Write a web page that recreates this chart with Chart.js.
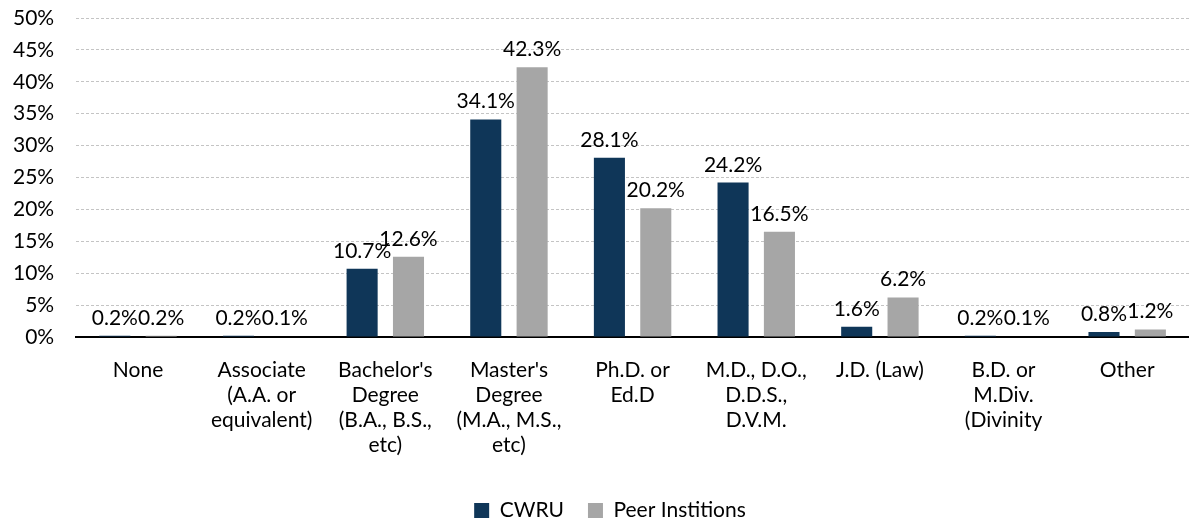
<!DOCTYPE html>
<html>
<head>
<meta charset="utf-8">
<script src="https://cdn.jsdelivr.net/npm/chart.js@4.4.1/dist/chart.umd.min.js"></script>
<style>
  html, body { margin: 0; padding: 0; background: #fff; }
  #wrap { width: 1189px; height: 518px; }
</style>
</head>
<body>
<div id="wrap"><canvas id="chart" width="1189" height="518"></canvas></div>
<script>
const categories = [
    ['None'],
    ['Associate', '(A.A. or', 'equivalent)'],
    ["Bachelor's", 'Degree', '(B.A., B.S.,', 'etc)'],
    ["Master's", 'Degree', '(M.A., M.S.,', 'etc)'],
    ['Ph.D. or', 'Ed.D'],
    ['M.D., D.O.,', 'D.D.S.,', 'D.V.M.'],
    ['J.D. (Law)'],
    ['B.D. or', 'M.Div.', '(Divinity'],
    ['Other']
]
const cwru = [0.2, 0.2, 10.7, 34.1, 28.1, 24.2, 1.6, 0.2, 0.8]
const peers = [0.2, 0.1, 12.6, 42.3, 20.2, 16.5, 6.2, 0.1, 1.2]
const yTicks = [0, 5, 10, 15, 20, 25, 30, 35, 40, 45, 50]

const font = 'Lato, "Open Sans", sans-serif'
Chart.defaults.font.family = font
Chart.defaults.font.size = 21
Chart.defaults.color = '#000'

// value labels above each bar
const barLabels = {
    id: 'barLabels',
    afterDatasetsDraw(chart) {
        const c = chart.ctx
        c.save()
        c.font = '21px ' + font
        c.fillStyle = '#000'
        c.textAlign = 'center'
        c.textBaseline = 'alphabetic'
        chart.data.datasets.forEach((ds, i) => {
            chart.getDatasetMeta(i).data.forEach((bar, j) => {
                c.fillText(ds.data[j].toFixed(1) + '%', bar.x, bar.y - 11)
            })
        })
        c.restore()
    }
}

// legend sits a little right of centre, under the plot area
const legendShift = {
    id: 'legendShift',
    afterLayout(chart) {
        chart.legend.left += 20
        chart.legend.right += 20
    }
}

const chart = new Chart(document.getElementById('chart').getContext('2d'), {
    type: 'bar',
    data: {
        labels: categories,
        datasets: [{
            label: 'CWRU',
            data: cwru,
            backgroundColor: '#0F3658',
            categoryPercentage: 0.75,
            barPercentage: 0.67
        }, {
            label: 'Peer Institions',
            data: peers,
            backgroundColor: '#A6A6A6',
            categoryPercentage: 0.75,
            barPercentage: 0.67
        }]
    },
    options: {
        responsive: false,
        animation: false,
        layout: { padding: { left: -9, right: 0, top: 0, bottom: -13 } },
        plugins: {
            legend: {
                position: 'bottom',
                labels: { boxWidth: 15, boxHeight: 15, padding: 24, font: { size: 21 } }
            },
            tooltip: { enabled: false }
        },
        scales: {
            x: {
                grid: { display: false },
                border: { display: true, color: '#000', width: 2 },
                ticks: { maxRotation: 0, autoSkip: false, padding: 13, font: { size: 21, lineHeight: 1.19 } },
                afterFit(axis) { axis.height += 5 }
            },
            y: {
                min: 0,
                max: 50,
                afterBuildTicks(axis) {
                    axis.ticks = yTicks.map(v => ({ value: v }))
                },
                afterFit(axis) { axis.paddingTop = 18 },
                grid: { color: '#C4C4C4', lineWidth: 1, drawTicks: false },
                border: { display: false, dash: [3, 2] },
                ticks: { padding: 22, callback: v => v + '%' }
            }
        }
    },
    plugins: [barLabels, legendShift]
})
</script>
</body>
</html>
